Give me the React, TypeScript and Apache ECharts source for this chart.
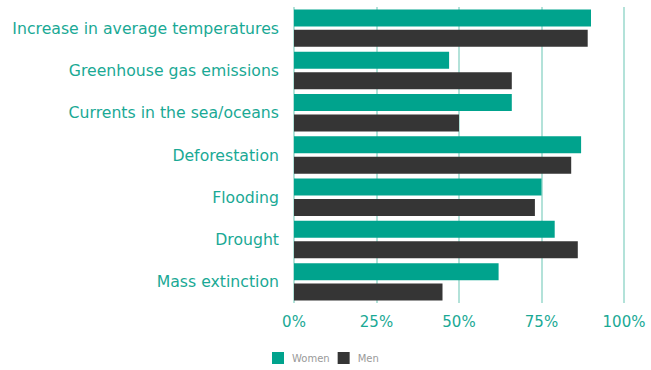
import React, { useEffect, useRef } from "react";
import * as echarts from "echarts";

const categories = [
  "Increase in average temperatures",
  "Greenhouse gas emissions",
  "Currents in the sea/oceans",
  "Deforestation",
  "Flooding",
  "Drought",
  "Mass extinction",
];
const women = [90, 47, 66, 87, 75, 79, 62];
const men = [89, 66, 50, 84, 73, 86, 45];
const xTicks = [0, 25, 50, 75, 100];

const TEAL = "#00a38d";
const DARK = "#353535";
const LABEL = "#1aa995";
const GRID = "#9ad8cd";

export default function App() {
  const ref = useRef<HTMLDivElement>(null);

  useEffect(() => {
    if (!ref.current) return;
    const chart = echarts.init(ref.current, undefined, { renderer: "svg" });
    chart.setOption({
      animation: false,
      backgroundColor: "#ffffff",
      legend: {
        data: ["Women", "Men"],
        bottom: 1,
        left: 267,
        itemWidth: 12,
        itemHeight: 12,
        itemGap: 8,
        icon: "rect",
        textStyle: {
          color: "#9a9a9a",
          fontSize: 10,
          fontFamily: "DejaVu Sans",
          padding: [0, 0, 0, 3],
        },
      },
      grid: { left: 294, right: 27, top: 7, bottom: 67, containLabel: false },
      xAxis: {
        type: "value",
        min: xTicks[0],
        max: xTicks[xTicks.length - 1],
        interval: 25,
        axisLine: { show: false },
        axisTick: { show: false },
        splitLine: { show: true, lineStyle: { color: GRID, width: 1.5 } },
        axisLabel: {
          color: LABEL,
          fontSize: 15,
          fontFamily: "DejaVu Sans",
          margin: 11,
          formatter: (v: number) => `${v}%`,
        },
      },
      yAxis: {
        type: "category",
        data: categories,
        inverse: true,
        axisLine: { show: false },
        axisTick: { show: false },
        splitLine: { show: false },
        axisLabel: {
          color: LABEL,
          fontSize: 15.7,
          fontFamily: "DejaVu Sans",
          margin: 15,
        },
      },
      series: [
        {
          name: "Women",
          type: "bar",
          data: women,
          barWidth: 17,
          barGap: "20%",
          itemStyle: { color: TEAL },
        },
        {
          name: "Men",
          type: "bar",
          data: men,
          barWidth: 17,
          barGap: "20%",
          itemStyle: { color: DARK },
        },
      ],
    });
    return () => chart.dispose();
  }, []);

  return (
    <div
      ref={ref}
      style={{ position: "fixed", left: 0, top: 0, width: 651, height: 370 }}
    />
  );
}
